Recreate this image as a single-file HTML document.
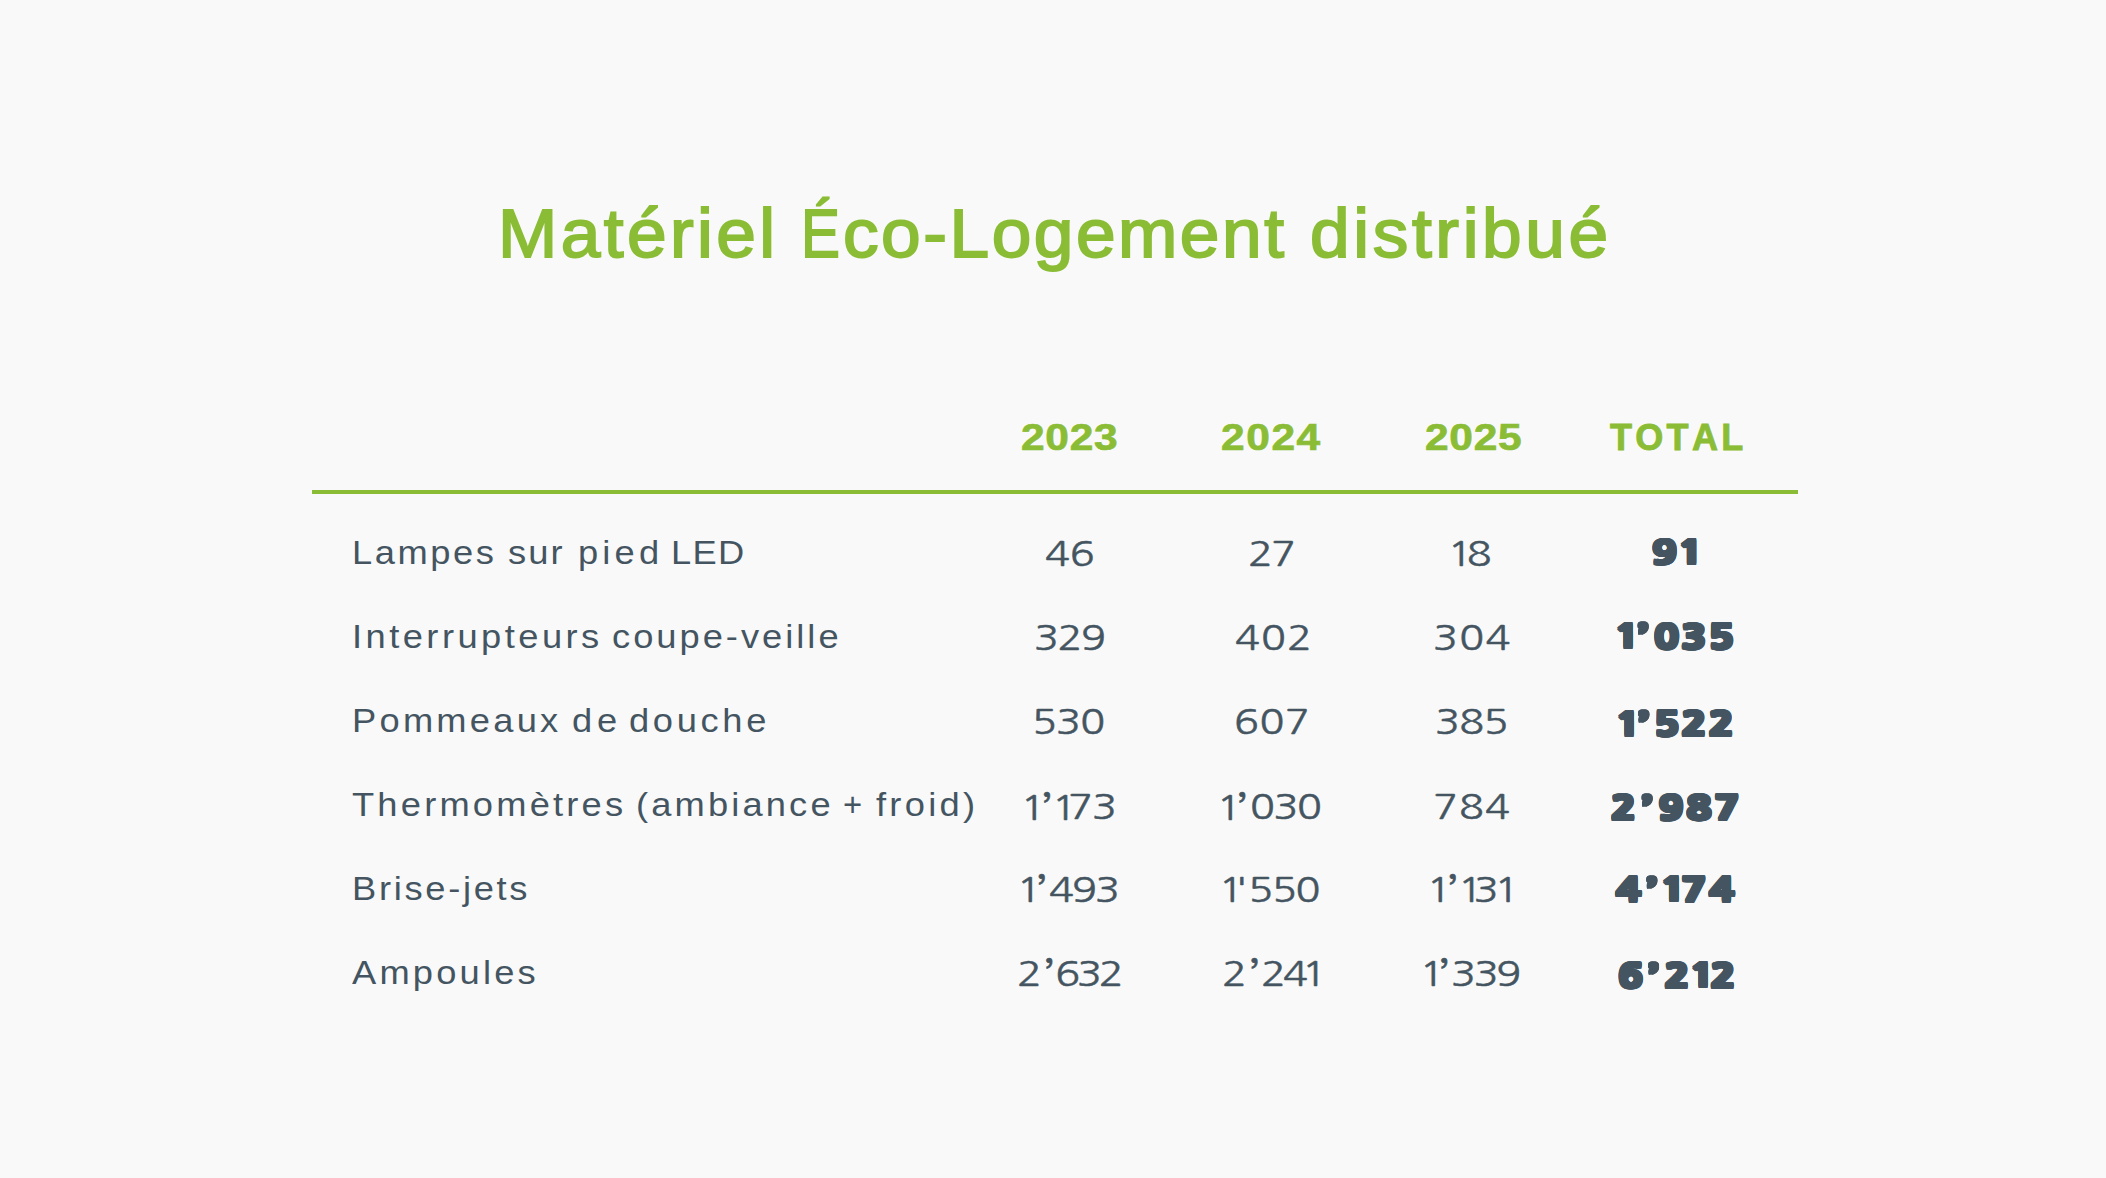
<!DOCTYPE html>
<html lang="fr">
<head>
<meta charset="utf-8">
<meta name="viewport" content="width=2106">
<title>Matériel Éco-Logement distribué</title>
<style>
html,body{margin:0;padding:0;background:#f9f9f9;}
body{width:2106px;height:1178px;position:relative;overflow:hidden;font-family:'Liberation Sans',sans-serif;}
.slide{position:absolute;left:0;top:0;width:2106px;height:1178px;}
.t{position:absolute;white-space:pre;line-height:0;transform-origin:0 0;margin:0;padding:0;display:block;font-kerning:none;}
.title{font-family:'Liberation Sans',sans-serif;font-weight:400;font-size:69.1px;color:#8abd35;-webkit-text-stroke:1.9px #8abd35;}
.head{font-family:'Liberation Sans',sans-serif;font-weight:700;font-size:36.6px;color:#8abd35;-webkit-text-stroke:0.7px #8abd35;}
.headt{font-family:'Liberation Sans',sans-serif;font-weight:700;font-size:36.0px;color:#8abd35;-webkit-text-stroke:0.9px #8abd35;}
.lab{font-family:'Liberation Sans',sans-serif;font-weight:400;font-size:32.4px;color:#445561;}
.num{font-family:'NanumGothic','Liberation Sans',sans-serif;font-weight:400;font-size:34.6px;color:#445561;-webkit-text-stroke:0.5px #445561;}
.tot{font-family:'NanumGothic','Liberation Sans',sans-serif;font-weight:800;font-size:32.6px;color:#445561;text-shadow:-1.40px -1.25px 0 #445561,-1.40px 0.00px 0 #445561,-1.40px 1.25px 0 #445561,0.00px -1.25px 0 #445561,0.00px 1.25px 0 #445561,1.40px -1.25px 0 #445561,1.40px 0.00px 0 #445561,1.40px 1.25px 0 #445561,-0.70px -1.25px 0 #445561,-0.70px 1.25px 0 #445561,0.70px -1.25px 0 #445561,0.70px 1.25px 0 #445561,-1.40px -0.62px 0 #445561,-1.40px 0.62px 0 #445561,1.40px -0.62px 0 #445561,1.40px 0.62px 0 #445561;}
.rule{position:absolute;left:312px;top:490px;width:1486px;height:4px;background:#8abd35;}
.t i{font-style:normal;}
h1,section,header,div,span{margin:0;padding:0;font-weight:inherit;font-size:inherit;}
</style>
</head>
<body>
<main class="slide">
<h1><span class="t title" style="left:498.23px;top:233.05px;letter-spacing:3.337px;transform:scaleX(1.0300);">Matériel</span> <span class="t title" style="left:800.96px;top:233.05px;transform:scaleX(1.0300);"><i style="display:inline-block;transform:scaleX(0.82);transform-origin:0 50%;letter-spacing:0;margin-right:-5.35px">É</i><i style="letter-spacing:2.48px">co-Logemen</i><i style="letter-spacing:0.00px">t</i></span> <span class="t title" style="left:1310.22px;top:233.05px;letter-spacing:3.533px;transform:scaleX(1.0300);">distribué</span></h1>
<section>
<header><span class="t head" style="left:1021.25px;top:437.85px;letter-spacing:0.619px;transform:scaleX(1.1600);">2023</span> <span class="t head" style="left:1221.45px;top:437.85px;letter-spacing:1.378px;transform:scaleX(1.1600);">2024</span> <span class="t head" style="left:1425.05px;top:437.85px;letter-spacing:0.619px;transform:scaleX(1.1600);">2025</span> <span class="t headt" style="left:1609.95px;top:437.75px;letter-spacing:3.330px;transform:scaleX(1.0000);">TOTAL</span></header>
<div class="rule"></div>
<div class="row"><span class="t lab" style="left:352.36px;top:553.00px;letter-spacing:2.285px;transform:scaleX(1.1200);">Lampes</span> <span class="t lab" style="left:508.10px;top:553.00px;letter-spacing:1.815px;transform:scaleX(1.1200);">sur</span> <span class="t lab" style="left:577.66px;top:553.00px;letter-spacing:3.723px;transform:scaleX(1.1200);">pied</span> <span class="t lab" style="left:671.36px;top:553.00px;letter-spacing:1.128px;transform:scaleX(1.1200);">LED</span> <span class="t num" style="left:1045.21px;top:553.65px;letter-spacing:-0.202px;transform:scaleX(1.1900);">46</span> <span class="t num" style="left:1247.82px;top:553.65px;letter-spacing:-1.564px;transform:scaleX(1.1900);">27</span> <span class="t num" style="left:1450.86px;top:553.65px;letter-spacing:2.067px;transform:scaleX(1.1900);"><i style="margin:0 -6.92px 0 -2.96px">1</i>8</span> <span class="t tot" style="left:1652.30px;top:552.55px;letter-spacing:2.952px;transform:scaleX(1.2600);">9<i style="margin:0 -5.60px 0 -1.86px">1</i></span></div>
<div class="row"><span class="t lab" style="left:352.16px;top:637.20px;letter-spacing:3.094px;transform:scaleX(1.1200);">Interrupteurs</span> <span class="t lab" style="left:612.48px;top:637.20px;letter-spacing:2.676px;transform:scaleX(1.1200);">coupe-veille</span> <span class="t num" style="left:1033.62px;top:637.65px;letter-spacing:-1.217px;transform:scaleX(1.1900);">329</span> <span class="t num" style="left:1234.81px;top:637.65px;letter-spacing:0.884px;transform:scaleX(1.1900);">402</span> <span class="t num" style="left:1432.62px;top:637.65px;letter-spacing:1.098px;transform:scaleX(1.1900);">304</span> <span class="t tot" style="left:1617.03px;top:636.55px;letter-spacing:2.056px;transform:scaleX(1.2600);"><i style="margin:0 -5.60px 0 -1.86px">1</i><i style="margin:0 2.41px 0 2.44px;font-size:132%;vertical-align:-0.087em;position:relative;top:0.104em">’</i>035</span></div>
<div class="row"><span class="t lab" style="left:352.16px;top:721.30px;letter-spacing:2.906px;transform:scaleX(1.1200);">Pommeaux</span> <span class="t lab" style="left:571.78px;top:721.30px;letter-spacing:4.200px;transform:scaleX(1.1200);">de</span> <span class="t lab" style="left:629.38px;top:721.30px;letter-spacing:3.275px;transform:scaleX(1.1200);">douche</span> <span class="t num" style="left:1032.03px;top:721.65px;letter-spacing:-0.713px;transform:scaleX(1.1900);">530</span> <span class="t num" style="left:1234.02px;top:721.65px;letter-spacing:0.380px;transform:scaleX(1.1900);">607</span> <span class="t num" style="left:1434.92px;top:721.65px;letter-spacing:-0.545px;transform:scaleX(1.1900);">385</span> <span class="t tot" style="left:1617.93px;top:724.35px;letter-spacing:1.850px;transform:scaleX(1.2600);"><i style="margin:0 -5.60px 0 -1.86px">1</i><i style="margin:0 2.41px 0 2.44px;font-size:132%;vertical-align:-0.087em;position:relative;top:0.104em">’</i>522</span></div>
<div class="row"><span class="t lab" style="left:351.90px;top:805.20px;letter-spacing:2.862px;transform:scaleX(1.1200);">Thermomètres</span> <span class="t lab" style="left:636.16px;top:805.20px;letter-spacing:2.812px;transform:scaleX(1.1200);">(ambiance</span> <span class="t lab" style="left:843.19px;top:805.20px;letter-spacing:0.000px;transform:scaleX(1.0118);">+</span> <span class="t lab" style="left:876.00px;top:805.20px;letter-spacing:2.937px;transform:scaleX(1.1200);">froid)</span> <span class="t num" style="left:1024.26px;top:807.45px;letter-spacing:-0.607px;transform:scaleX(1.1900);"><i style="margin:0 -6.92px 0 -2.96px">1</i><i style="margin:0 3.49px 0 5.19px;font-size:122%;vertical-align:-0.065em;position:relative;top:0.078em">’</i><i style="margin:0 -6.92px 0 -2.96px">1</i>73</span> <span class="t num" style="left:1220.46px;top:807.45px;letter-spacing:-1.223px;transform:scaleX(1.1900);"><i style="margin:0 -6.92px 0 -2.96px">1</i><i style="margin:0 3.49px 0 5.19px;font-size:122%;vertical-align:-0.065em;position:relative;top:0.078em">’</i>030</span> <span class="t num" style="left:1433.22px;top:807.45px;letter-spacing:0.846px;transform:scaleX(1.1900);">784</span> <span class="t tot" style="left:1610.90px;top:808.35px;letter-spacing:2.537px;transform:scaleX(1.2600);">2<i style="margin:0 2.41px 0 2.44px;font-size:132%;vertical-align:-0.087em;position:relative;top:0.104em">’</i>987</span></div>
<div class="row"><span class="t lab" style="left:352.06px;top:889.20px;letter-spacing:2.408px;transform:scaleX(1.1200);">Brise-jets</span> <span class="t num" style="left:1020.46px;top:889.65px;letter-spacing:-1.606px;transform:scaleX(1.1900);"><i style="margin:0 -6.92px 0 -2.96px">1</i><i style="margin:0 3.49px 0 5.19px;font-size:122%;vertical-align:-0.065em;position:relative;top:0.078em">’</i>493</span> <span class="t num" style="left:1222.36px;top:889.65px;letter-spacing:-1.163px;transform:scaleX(1.1900);"><i style="margin:0 -6.92px 0 -2.96px">1</i><i style="margin:0 1.71px 0 1.19px">'</i>550</span> <span class="t num" style="left:1429.96px;top:889.65px;letter-spacing:-0.654px;transform:scaleX(1.1900);"><i style="margin:0 -6.92px 0 -2.96px">1</i><i style="margin:0 3.49px 0 5.19px;font-size:122%;vertical-align:-0.065em;position:relative;top:0.078em">’</i><i style="margin:0 -6.92px 0 -2.96px">1</i>3<i style="margin:0 -6.92px 0 -2.96px">1</i></span> <span class="t tot" style="left:1615.96px;top:890.15px;letter-spacing:2.362px;transform:scaleX(1.2600);">4<i style="margin:0 2.41px 0 2.44px;font-size:132%;vertical-align:-0.087em;position:relative;top:0.104em">’</i><i style="margin:0 -5.60px 0 -1.86px">1</i>74</span></div>
<div class="row"><span class="t lab" style="left:352.10px;top:973.20px;letter-spacing:2.857px;transform:scaleX(1.1200);">Ampoules</span> <span class="t num" style="left:1016.92px;top:973.65px;letter-spacing:-2.658px;transform:scaleX(1.1900);">2<i style="margin:0 3.49px 0 5.19px;font-size:122%;vertical-align:-0.065em;position:relative;top:0.078em">’</i>632</span> <span class="t num" style="left:1222.22px;top:973.65px;letter-spacing:-2.369px;transform:scaleX(1.1900);">2<i style="margin:0 3.49px 0 5.19px;font-size:122%;vertical-align:-0.065em;position:relative;top:0.078em">’</i>24<i style="margin:0 -6.92px 0 -2.96px">1</i></span> <span class="t num" style="left:1422.96px;top:973.65px;letter-spacing:-1.982px;transform:scaleX(1.1900);"><i style="margin:0 -6.92px 0 -2.96px">1</i><i style="margin:0 3.49px 0 5.19px;font-size:122%;vertical-align:-0.065em;position:relative;top:0.078em">’</i>339</span> <span class="t tot" style="left:1617.60px;top:976.15px;letter-spacing:2.192px;transform:scaleX(1.2600);">6<i style="margin:0 2.41px 0 2.44px;font-size:132%;vertical-align:-0.087em;position:relative;top:0.104em">’</i>2<i style="margin:0 -5.60px 0 -1.86px">1</i>2</span></div>
</section>
</main>
</body>
</html>
